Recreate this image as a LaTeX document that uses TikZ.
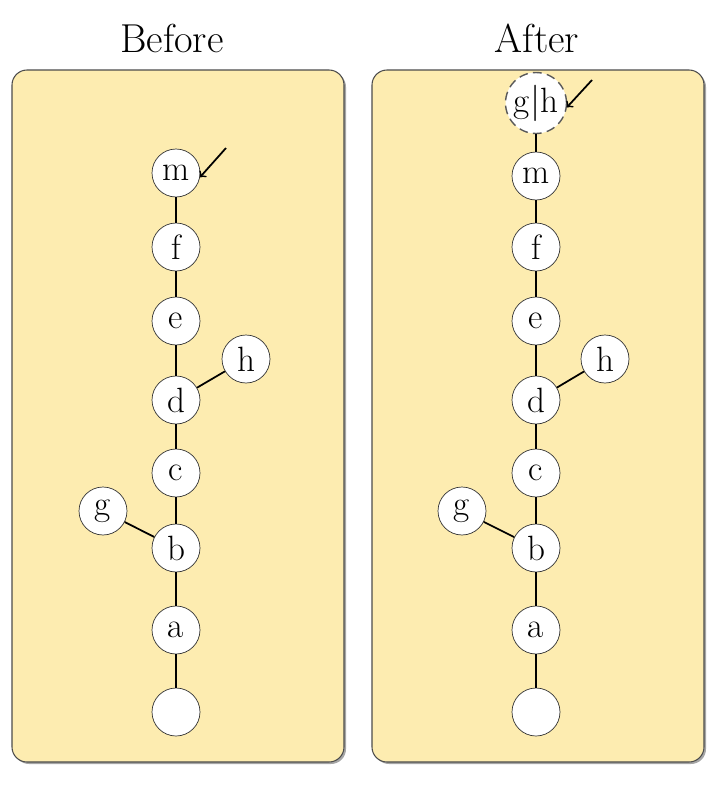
\documentclass[tikz,border=0pt]{standalone}
\definecolor{panelbg}{RGB}{253,236,176}
\begin{document}
\begin{tikzpicture}[x=0.02cm,y=-0.02cm,
  vert/.style={circle,draw=black!80,fill=white,minimum size=0.96cm,inner sep=0pt,font=\fontsize{20}{20}\selectfont},
  panel/.style={draw=black!70,fill=panelbg,rounded corners=0.3cm,line width=0.6pt}]
\useasboundingbox (0,0) rectangle (721,795);
% panels
\fill[black!35,rounded corners=0.3cm] (14,72) rectangle (346,764);
\draw[panel] (12,70) rectangle (344,762);
\fill[black!35,rounded corners=0.3cm] (374,72) rectangle (706,764);
\draw[panel] (372,70) rectangle (704,762);
\node[font=\fontsize{23}{23}\selectfont] (tb) at (172,38) {Before};
\node[font=\fontsize{23}{23}\selectfont] (ta) at (537,38) {After};
% before
\node[vert] (bm) at (176,173) {m};
\node[vert] (bf) at (176,247) {f};
\node[vert] (be) at (176,321) {e};
\node[vert] (bh) at (246,359) {h};
\node[vert] (bd) at (176,400) {d};
\node[vert] (bc) at (176,473) {c};
\node[vert] (bg) at (103,511) {g};
\node[vert] (bb) at (176,548) {b};
\node[vert] (ba) at (176,630) {a};
\node[vert] (br) at (176,712) {};
\draw[line width=1pt] (br) -- (ba) -- (bb) -- (bc) -- (bd) -- (be) -- (bf) -- (bm);
\draw[line width=1pt] (bb) -- (bg);
\draw[line width=1pt] (bd) -- (bh);
\coordinate (bp) at (226,148);
\draw[->,line width=1pt] (bp) -- (bm.350);
% after
\node[vert,draw=black!65,line width=0.8pt,dash pattern=on 5pt off 3pt,minimum size=1.22cm] (agh) at (536,103) {g$|$h};
\node[vert] (am) at (536,176) {m};
\node[vert] (af) at (536,247) {f};
\node[vert] (ae) at (536,321) {e};
\node[vert] (ah) at (605,359) {h};
\node[vert] (ad) at (536,400) {d};
\node[vert] (ac) at (536,473) {c};
\node[vert] (ag) at (462,511) {g};
\node[vert] (ab) at (536,548) {b};
\node[vert] (aa) at (536,630) {a};
\node[vert] (ar) at (536,712) {};
\draw[line width=1pt] (ar) -- (aa) -- (ab) -- (ac) -- (ad) -- (ae) -- (af) -- (am) -- (agh);
\draw[line width=1pt] (ab) -- (ag);
\draw[line width=1pt] (ad) -- (ah);
\coordinate (ap) at (592,80);
\draw[->,line width=1pt] (ap) -- (agh.352);
\end{tikzpicture}
\end{document}
